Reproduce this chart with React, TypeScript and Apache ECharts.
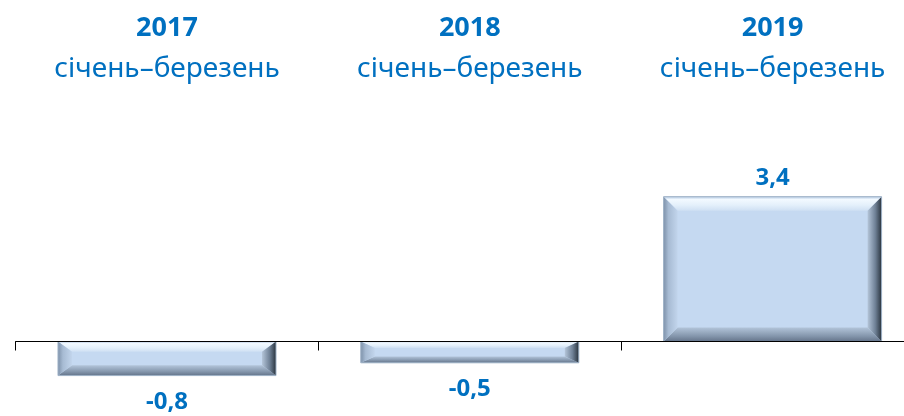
import React, { useEffect, useRef } from "react";
import * as echarts from "echarts";

const categories = ["2017", "2018", "2019"];
const periodLabel = "січень–березень";
const values = [-0.8, -0.5, 3.4];

const BLUE = "#0070C0";
const FONT = "'Noto Sans', 'DejaVu Sans', sans-serif";

function fmt(v: number) {
  return v.toFixed(1).replace(".", ",");
}

export default function App() {
  const ref = useRef<HTMLDivElement>(null);
  useEffect(() => {
    if (!ref.current) return;
    const chart = echarts.init(ref.current, null, { renderer: "svg" });
    const lg = (x2: number, y2: number, stops: [number, string][]) =>
      new echarts.graphic.LinearGradient(0, 0, x2, y2, stops.map(([offset, color]) => ({ offset, color })));

    const renderItem = (params: any, api: any) => {
      const idx = api.value(0);
      const v = api.value(1);
      const p0 = api.coord([idx, 0]);
      const p1 = api.coord([idx, v]);
      const w = api.size([1, 0])[0] * 0.72;
      const x0 = p0[0] - w / 2;
      const x1 = x0 + w;
      const y0 = Math.min(p0[1], p1[1]);
      const y1 = Math.max(p0[1], p1[1]);
      const h = y1 - y0;
      const bh = 14;
      const bv = Math.min(14, h * 0.3);
      const labelY = v >= 0 ? y0 - 21 : y1 + 23.5;
      return {
        type: "group",
        children: [
          { type: "rect", shape: { x: x0, y: y0, width: w, height: h }, style: { fill: "#C5D9F1" } },
          {
            type: "polygon",
            shape: { points: [[x0, y0], [x1, y0], [x1 - bh, y0 + bv], [x0 + bh, y0 + bv]] },
            style: { fill: lg(0, 1, [[0, "#b4c9e2"], [0.2, "#f2f9ff"], [0.6, "#e4f0fb"], [1, "#cfe0f3"]]) },
          },
          {
            type: "polygon",
            shape: { points: [[x0, y1], [x1, y1], [x1 - bh, y1 - bv], [x0 + bh, y1 - bv]] },
            style: { fill: lg(0, 1, [[0, "#b2c4d9"], [0.6, "#8597ad"], [1, "#64748a"]]) },
          },
          {
            type: "polygon",
            shape: { points: [[x0, y0], [x0 + bh, y0 + bv], [x0 + bh, y1 - bv], [x0, y1]] },
            style: { fill: lg(1, 0, [[0, "#7e92aa"], [0.35, "#a7bbd3"], [1, "#c2d5ec"]]) },
          },
          {
            type: "polygon",
            shape: { points: [[x1, y0], [x1, y1], [x1 - bh, y1 - bv], [x1 - bh, y0 + bv]] },
            style: { fill: lg(1, 0, [[0, "#b4c5d9"], [0.55, "#6f8196"], [0.85, "#414e5c"], [1, "#28313a"]]) },
          },
          {
            type: "rect",
            shape: { x: x0, y: y0, width: w, height: h },
            style: { fill: "none", stroke: "#9fb2c7", lineWidth: 1 },
          },
          {
            type: "text",
            x: (x0 + x1) / 2,
            y: labelY,
            style: {
              text: fmt(v),
              fill: BLUE,
              font: `bold 24px ${FONT}`,
              lineHeight: 20,
              align: "center",
              verticalAlign: "middle",
            },
          },
        ],
      };
    };

    chart.setOption({
      animation: false,
      grid: { left: 15.6, right: 0, top: 128.5, height: 255.6 },
      xAxis: [
        {
          type: "category",
          data: categories,
          position: "bottom",
          z: 5,
          axisLine: { show: true, onZero: true, lineStyle: { color: "#000", width: 1 } },
          axisTick: { show: true, length: 9, lineStyle: { color: "#000" } },
          axisLabel: { show: false },
        },
        {
          type: "category",
          data: categories,
          position: "top",
          axisLine: { show: false },
          axisTick: { show: false },
          axisLabel: {
            margin: 43,
            formatter: (v: string) => `{y|${v}}\n{p|${periodLabel}}`,
            rich: {
              y: { fontSize: 27, fontWeight: "bold", color: BLUE, lineHeight: 40, fontFamily: FONT },
              p: { fontSize: 28, color: BLUE, lineHeight: 40, fontFamily: FONT },
            },
          },
        },
      ],
      yAxis: { type: "value", min: -1, max: 5, show: false, splitLine: { show: false } },
      series: [
        {
          type: "custom",
          xAxisIndex: 0,
          renderItem,
          encode: { x: 0, y: 1 },
          data: values.map((v, i) => [i, v]),
        },
      ],
    });
    return () => chart.dispose();
  }, []);
  return (
    <div style={{ position: "fixed", left: 0, top: 0, width: 904, height: 416, overflow: "hidden" }}>
      <div ref={ref} style={{ width: 924, height: 416 }} />
    </div>
  );
}
